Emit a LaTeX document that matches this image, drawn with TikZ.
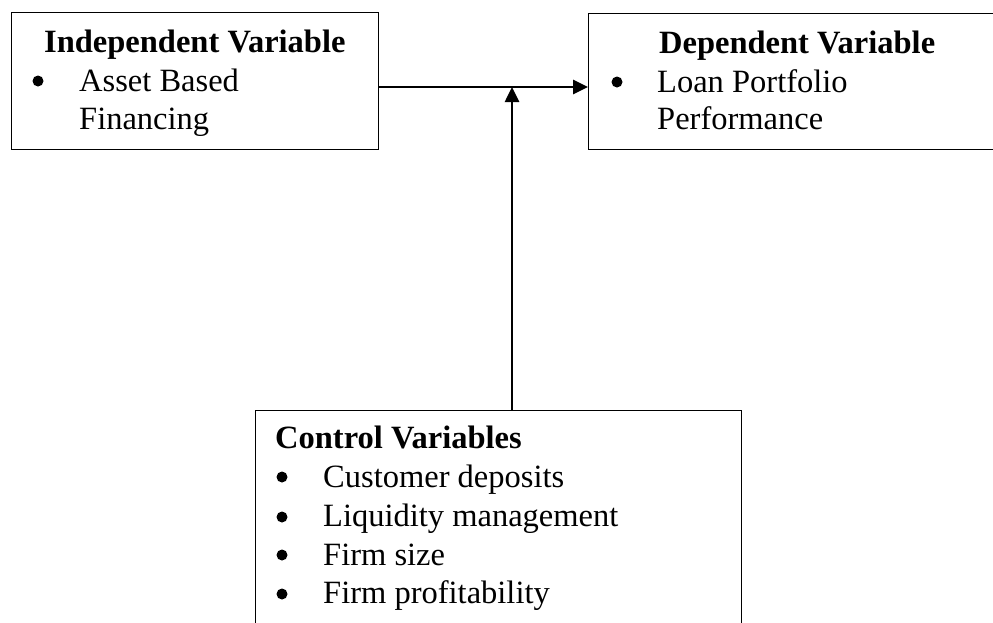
\documentclass[tikz,border=0pt]{standalone}
\usepackage{fontspec}
\setmainfont{Liberation Serif}
\usetikzlibrary{arrows.meta}
\begin{document}
\begin{tikzpicture}[x=1pt,y=-1pt,
  box/.style={draw, line width=1.2pt, inner sep=0pt, anchor=north west},
  txt/.style={anchor=base west, inner sep=0pt, font=\fontsize{32.5}{38}\selectfont},
  ttl/.style={txt, font=\fontsize{32.5}{38}\selectfont\bfseries},
  bul/.style={circle, fill, inner sep=0pt, minimum size=11pt},
  arr/.style={line width=2.6pt, -{Triangle[length=15pt,width=14pt]}}]
\clip (0,0) rectangle (993,622);
\fill[white] (0,0) rectangle (993,622);
% boxes
\node[box, minimum width=367pt, minimum height=137pt] (ind) at (11,12) {};
\node[box, minimum width=500pt, minimum height=136pt] (dep) at (588,13) {};
\node[box, minimum width=486pt, minimum height=300pt] (ctrl) at (255,410) {};
% independent
\node[ttl] (indt) at (44,52) {Independent Variable};
\node[bul] (indb) at (38,81) {};
\node[txt] (indi1) at (79,91) {Asset Based};
\node[txt] (indi2) at (79,129) {Financing};
% dependent
\node[ttl] (dept) at (659,53) {Dependent Variable};
\node[bul] (depb) at (617,82) {};
\node[txt] (depi1) at (657,92) {Loan Portfolio};
\node[txt] (depi2) at (657,129) {Performance};
% control
\node[ttl] (ctrlt) at (275,448) {Control Variables};
\node[bul] (cb1) at (282,477) {};
\node[txt] (ci1) at (323,487) {Customer deposits};
\node[bul] (cb2) at (282,517) {};
\node[txt] (ci2) at (323,526) {Liquidity management};
\node[bul] (cb3) at (282,555) {};
\node[txt] (ci3) at (323,565) {Firm size};
\node[bul] (cb4) at (282,594) {};
\node[txt] (ci4) at (323,603) {Firm profitability};
% connectors
\coordinate (mid) at (512,87);
\draw[arr] (ind.east |- mid) -- (dep.west |- mid);
\draw[arr] (ctrl.north -| mid) -- (mid);
\end{tikzpicture}
\end{document}
